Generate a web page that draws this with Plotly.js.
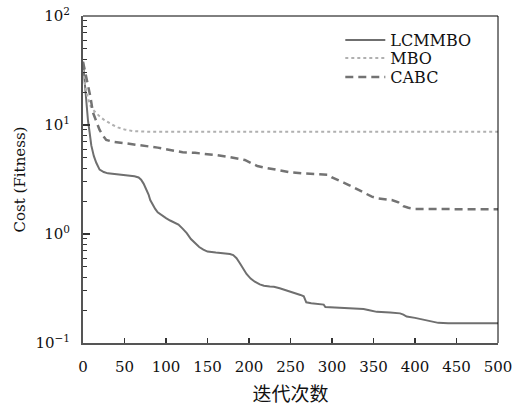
<!DOCTYPE html>
<html>
<head>
<meta charset="utf-8">
<script src="https://cdn.plot.ly/plotly-3.0.1.min.js"></script>
<style>html,body{margin:0;padding:0;background:#fff;}#chart{width:514px;height:410px;}</style>
</head>
<body>
<div id="chart"></div>
<script>
var seriesNames = ["LCMMBO", "MBO", "CABC"];

var lcmmboX = [0,2,4,6,8,10,13,16,20,25,30,37,45,52,57,62,67,70,73,76,79,81,84,87,90,95,100,105,110,115,120,125,130,135,140,145,150,160,170,177,181,185,189,193,197,202,207,213,218,225,230,237,245,252,257,262,266,269,275,285,290,292,300,320,338,345,354,370,382,386,390,400,410,420,428,440,460,480,500];
var lcmmboY = [38,25,16,11,8.5,6.5,5.2,4.5,3.9,3.7,3.6,3.55,3.5,3.45,3.43,3.38,3.3,3.15,2.9,2.6,2.3,2.05,1.85,1.7,1.58,1.48,1.4,1.33,1.28,1.22,1.12,1.02,0.9,0.82,0.76,0.72,0.69,0.675,0.665,0.655,0.64,0.6,0.54,0.48,0.43,0.39,0.365,0.345,0.335,0.33,0.328,0.318,0.305,0.29,0.286,0.276,0.268,0.236,0.232,0.228,0.225,0.214,0.212,0.208,0.205,0.2,0.193,0.19,0.187,0.182,0.175,0.17,0.163,0.157,0.153,0.152,0.152,0.152,0.152];

var mboX = [0,3,6,9,12,16,20,25,30,36,42,50,60,70,80,100,200,300,400,500];
var mboY = [32,22,17.5,15,13.8,12.8,12,11.2,10.6,10,9.5,9.1,8.8,8.68,8.65,8.65,8.65,8.65,8.65,8.65];

var cabcX = [0,3,6,9,12,16,20,24,28,35,45,60,75,90,100,110,120,135,150,160,175,185,195,202,210,220,230,240,250,265,285,295,300,307,314,321,328,335,342,348,354,362,372,380,386,392,400,450,500];
var cabcY = [38,30,24,18,13,10.6,9,8,7.3,7.05,6.9,6.65,6.45,6.2,6.0,5.8,5.62,5.55,5.45,5.3,5.1,4.95,4.78,4.5,4.2,4.05,3.92,3.8,3.68,3.6,3.55,3.5,3.3,3.1,2.96,2.8,2.63,2.5,2.36,2.2,2.13,2.1,2.05,1.95,1.8,1.74,1.7,1.69,1.69];

var xTickVals = [0,50,100,150,200,250,300,350,400,450,500];
var yTickVals = [0.1,1,10,100];
var yTickText = ["10<sup>\u22121</sup>","10<sup>0</sup>","10<sup>1</sup>","10<sup>2</sup>"];
var yMinorVals = [0.2,0.3,0.4,0.5,0.6,0.7,0.8,0.9,2,3,4,5,6,7,8,9,20,30,40,50,60,70,80,90];

var serif = "DejaVu Serif";
var cjk = "Noto Sans CJK SC";

var traces = [
  {x: lcmmboX, y: lcmmboY, name: seriesNames[0], mode: "lines", line: {color: "#6f6f6f", width: 2}, legend: "legend"},
  {x: mboX, y: mboY, name: seriesNames[1], mode: "lines", line: {color: "#b0b0b0", width: 2, dash: "dot"}, legend: "legend2"},
  {x: cabcX, y: cabcY, name: seriesNames[2], mode: "lines", line: {color: "#737373", width: 2.5, dash: "8px,5px"}, legend: "legend3"}
];

function leg(ytop) {
  return {x: 0.62, y: ytop, xanchor: "left", yanchor: "middle", bgcolor: "rgba(0,0,0,0)",
          font: {family: serif, size: 16, color: "#111"}, itemwidth: 40};
}

var layout = {
  width: 514, height: 410,
  margin: {l: 83, r: 16, t: 16, b: 67},
  paper_bgcolor: "#fff", plot_bgcolor: "#fff",
  font: {family: serif, size: 15, color: "#111"},
  showlegend: true,
  legend: leg(1 - (40 - 16) / 327),
  legend2: leg(1 - (58 - 16) / 327),
  legend3: leg(1 - (77 - 16) / 327),
  xaxis: {
    range: [0, 500], tickmode: "array", tickvals: xTickVals,
    ticks: "inside", ticklen: 5, tickwidth: 1.5, tickcolor: "#333",
    showline: true, linecolor: "#555", linewidth: 2, showgrid: false, zeroline: false,
    tickfont: {family: serif, size: 15, color: "#111"},
    ticklabelstandoff: 9,
    title: {text: "迭代次数", font: {family: cjk, size: 19, color: "#111"}, standoff: 13}
  },
  yaxis: {
    type: "log", range: [-1, 2], tickmode: "array", tickvals: yTickVals, ticktext: yTickText,
    ticks: "inside", ticklen: 7, tickwidth: 1.5, tickcolor: "#333",
    minor: {tickmode: "array", tickvals: yMinorVals, ticks: "inside", ticklen: 4, tickwidth: 1, tickcolor: "#333", showgrid: false},
    showline: true, linecolor: "#555", linewidth: 2, showgrid: false, zeroline: false,
    tickfont: {family: serif, size: 15, color: "#111"},
    ticklabelstandoff: 8,
    title: {text: "Cost (Fitness)", font: {family: serif, size: 15, color: "#111"}, standoff: 6}
  },
  shapes: [
    {type: "line", xref: "paper", yref: "paper", x0: 0, x1: 1, y0: 1, y1: 1, line: {color: "#000", width: 1}},
    {type: "line", xref: "paper", yref: "paper", x0: 1, x1: 1, y0: 0, y1: 1, line: {color: "#000", width: 1}}
  ]
};

Plotly.newPlot("chart", traces, layout, {displayModeBar: false, staticPlot: true});
</script>
</body>
</html>
